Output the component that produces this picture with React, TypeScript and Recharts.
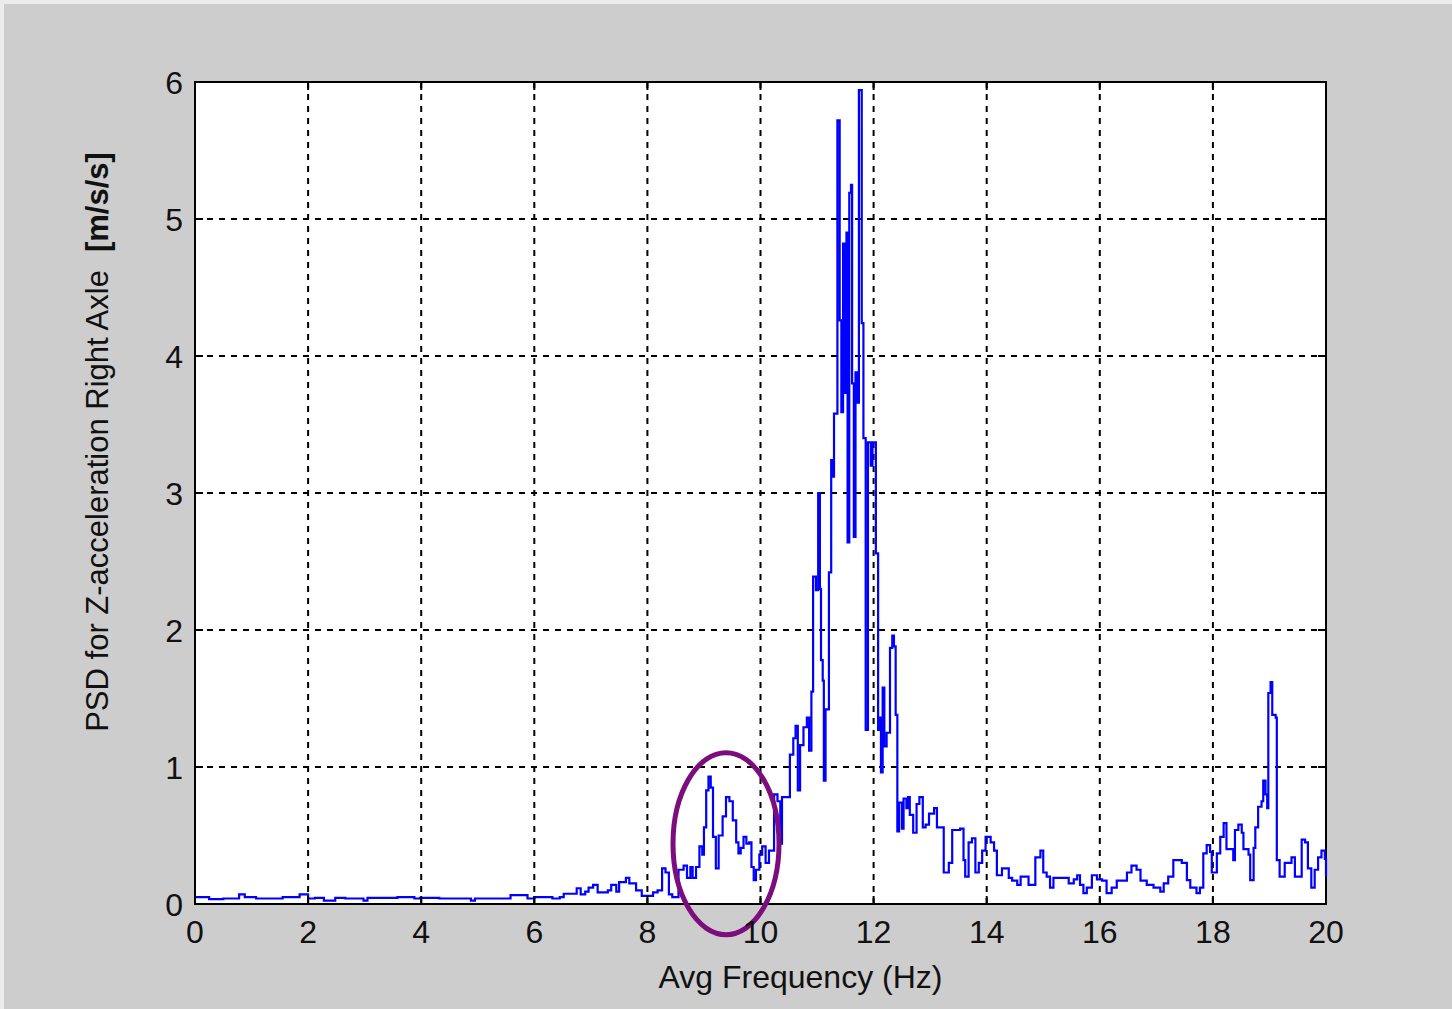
import { LineChart, Line, XAxis, YAxis, CartesianGrid, ReferenceArea, ReferenceDot } from 'recharts';

// PSD trace, frequency in Hz and amplitude in m/s/s
const freqHz = [
  0.0, 0.25, 0.5, 0.78, 0.88, 1.08, 1.55, 1.85, 2.0, 2.12, 2.28, 2.48, 2.66, 2.98, 3.05, 3.58, 3.88, 3.98,
  4.32, 4.88, 4.95, 5.58, 5.88, 6.0, 6.32, 6.45, 6.52, 6.75, 6.82, 6.9, 6.96, 7.04, 7.12, 7.3, 7.36, 7.45,
  7.5, 7.62, 7.68, 7.8, 7.9, 8.1, 8.18, 8.26, 8.32, 8.38, 8.44, 8.55, 8.64, 8.7, 8.76, 8.8, 8.86, 8.92,
  8.97, 9.0, 9.04, 9.08, 9.12, 9.16, 9.21, 9.26, 9.33, 9.39, 9.45, 9.51, 9.57, 9.61, 9.65, 9.7, 9.75, 9.8,
  9.84, 9.88, 9.92, 9.98, 10.03, 10.09, 10.15, 10.24, 10.3, 10.35, 10.38, 10.52, 10.58, 10.62, 10.66, 10.7,
  10.76, 10.82, 10.86, 10.9, 10.93, 10.98, 11.02, 11.05, 11.07, 11.1, 11.12, 11.15, 11.21, 11.25, 11.28,
  11.3, 11.36, 11.4, 11.43, 11.46, 11.49, 11.52, 11.54, 11.57, 11.6, 11.62, 11.65, 11.68, 11.71, 11.74,
  11.79, 11.82, 11.86, 11.9, 11.95, 11.98, 12.04, 12.08, 12.1, 12.13, 12.16, 12.19, 12.23, 12.29, 12.33,
  12.36, 12.39, 12.42, 12.45, 12.5, 12.53, 12.58, 12.61, 12.64, 12.7, 12.76, 12.81, 12.87, 12.92, 12.98,
  13.07, 13.12, 13.24, 13.33, 13.39, 13.53, 13.59, 13.62, 13.68, 13.74, 13.8, 13.86, 13.92, 13.98, 14.07,
  14.13, 14.18, 14.27, 14.39, 14.45, 14.54, 14.6, 14.74, 14.86, 14.95, 15.0, 15.06, 15.12, 15.18, 15.45,
  15.54, 15.6, 15.65, 15.71, 15.77, 15.86, 15.95, 16.04, 16.12, 16.21, 16.3, 16.48, 16.56, 16.65, 16.72,
  16.83, 16.95, 17.07, 17.13, 17.21, 17.3, 17.45, 17.54, 17.6, 17.71, 17.77, 17.83, 17.89, 17.95, 17.98,
  18.07, 18.13, 18.19, 18.24, 18.36, 18.39, 18.45, 18.51, 18.54, 18.63, 18.66, 18.72, 18.75, 18.8, 18.86,
  18.89, 18.93, 18.96, 18.98, 19.02, 19.05, 19.11, 19.13, 19.18, 19.24, 19.27, 19.39, 19.45, 19.55, 19.57,
  19.63, 19.68, 19.74, 19.8, 19.86, 19.92, 19.98, 20.0,
];

const psd = [
  0.05, 0.035, 0.04, 0.07, 0.05, 0.04, 0.05, 0.07, 0.04, 0.045, 0.025, 0.045, 0.04, 0.025, 0.045, 0.05, 0.04, 0.045,
  0.04, 0.025, 0.04, 0.065, 0.04, 0.05, 0.04, 0.05, 0.075, 0.115, 0.07, 0.09, 0.12, 0.14, 0.085, 0.1, 0.14, 0.09,
  0.16, 0.19, 0.15, 0.1, 0.06, 0.085, 0.1, 0.26, 0.23, 0.07, 0.05, 0.25, 0.28, 0.19, 0.27, 0.19, 0.27, 0.42,
  0.36, 0.56, 0.83, 0.93, 0.85, 0.49, 0.26, 0.5, 0.64, 0.78, 0.75, 0.61, 0.45, 0.37, 0.41, 0.49, 0.44, 0.45,
  0.27, 0.175, 0.25, 0.36, 0.42, 0.3, 0.39, 0.8, 0.75, 0.44, 0.78, 1.09, 1.21, 1.3, 0.83, 1.16,
  1.29, 1.36, 1.12, 1.55, 2.39, 2.29, 3.0, 2.3, 1.78, 1.63, 0.9, 1.42, 2.42, 3.24, 3.12,
  3.58, 5.72, 4.26, 3.59, 4.82, 3.73, 4.9, 2.64, 5.19, 5.25, 3.8, 2.68, 3.88, 3.66, 5.94,
  4.24, 3.4, 1.27, 3.37, 3.2, 3.37, 2.56, 1.27, 1.36, 0.96, 1.58, 1.15, 1.25, 1.87, 1.96,
  1.88, 1.38, 0.53, 0.74, 0.55, 0.77, 0.7, 0.78, 0.65, 0.52, 0.73, 0.78, 0.56, 0.58, 0.66,
  0.7, 0.56, 0.23, 0.3, 0.54, 0.55, 0.32, 0.2, 0.45, 0.48, 0.23, 0.3, 0.39, 0.49, 0.45,
  0.39, 0.21, 0.26, 0.19, 0.17, 0.14, 0.2, 0.14, 0.34, 0.39, 0.23, 0.2, 0.12, 0.19, 0.15,
  0.18, 0.21, 0.14, 0.08, 0.12, 0.21, 0.18, 0.17, 0.08, 0.12, 0.17, 0.23, 0.28, 0.25, 0.17,
  0.14, 0.12, 0.09, 0.15, 0.2, 0.32, 0.3, 0.175, 0.12, 0.08, 0.12, 0.37, 0.43, 0.38, 0.23,
  0.37, 0.49, 0.59, 0.4, 0.32, 0.54, 0.58, 0.52, 0.4, 0.36, 0.175, 0.41, 0.56, 0.71, 0.75,
  0.9, 0.8, 0.7, 1.54, 1.62, 1.38, 1.36, 0.32, 0.2, 0.2, 0.3, 0.34, 0.2, 0.2, 0.47,
  0.45, 0.26, 0.12, 0.25, 0.34, 0.39, 0.33, 0.2,
];

const xTicks = [0, 2, 4, 6, 8, 10, 12, 14, 16, 18, 20];
const yTicks = [0, 1, 2, 3, 4, 5, 6];

// circled bump around 9.4 Hz
const markFreq = 9.39;
const markPsd = 0.44;

const data = freqHz.map((f, i) => ({ f, v: psd[i] }));

const W = 1452;
const H = 1009;
const PLOT_LEFT = 195;
const PLOT_TOP = 82;
const PLOT_RIGHT = 1326;
const PLOT_BOTTOM = 904;
const AXIS_W = 60;
const AXIS_H = 60;
const FONT = '"Liberation Sans", Arial, sans-serif';
const TICK_LEN = 8;

const XTick = ({ x, y, payload }: any) => (
  <g>
    <line x1={x} y1={PLOT_BOTTOM} x2={x} y2={PLOT_BOTTOM - TICK_LEN} stroke="#000" strokeWidth={2} />
    <line x1={x} y1={PLOT_TOP} x2={x} y2={PLOT_TOP + TICK_LEN} stroke="#000" strokeWidth={2} />
    <text x={x} y={y + 39} textAnchor="middle" fontSize={32} fontFamily={FONT} fill="#111">
      {payload.value}
    </text>
  </g>
);

const YTick = ({ x, y, payload }: any) => (
  <g>
    <line x1={PLOT_LEFT} y1={y} x2={PLOT_LEFT + TICK_LEN} y2={y} stroke="#000" strokeWidth={2} />
    <line x1={PLOT_RIGHT} y1={y} x2={PLOT_RIGHT - TICK_LEN} y2={y} stroke="#000" strokeWidth={2} />
    <text x={x - 12} y={y} dy="0.36em" textAnchor="end" fontSize={32} fontFamily={FONT} fill="#111">
      {payload.value}
    </text>
  </g>
);

const YTitle = ({ viewBox }: any) => {
  const cx = viewBox.x - 38;
  const cy = viewBox.y + viewBox.height / 2 - 51;
  return (
    <text
      x={cx}
      y={cy}
      transform={`rotate(-90, ${cx}, ${cy})`}
      textAnchor="middle"
      dominantBaseline="central"
      fontSize={31}
      fontFamily={FONT}
      fill="#111"
    >
      <tspan>PSD for Z-acceleration Right Axle</tspan>
      <tspan dx={18} fontWeight="bold">[m/s/s]</tspan>
    </text>
  );
};

const XTitle = ({ viewBox }: any) => (
  <text
    x={viewBox.x + viewBox.width / 2 + 40}
    y={988}
    textAnchor="middle"
    fontSize={32}
    fontFamily={FONT}
    fill="#111"
  >
    Avg Frequency (Hz)
  </text>
);

const Ellipse = ({ cx, cy }: any) => (
  <ellipse cx={cx} cy={cy} rx={53} ry={91} fill="none" stroke="#7d0c7d" strokeWidth={5} />
);

export default function App() {
  return (
    <div
      style={{
        position: 'fixed',
        left: 0,
        top: 0,
        width: W,
        height: H,
        background: '#cdcdcd',
        overflow: 'hidden',
      }}
    >
      <div style={{ position: 'absolute', left: 0, top: 0, width: W, height: 4, background: '#ececec' }} />
      <div style={{ position: 'absolute', left: 0, top: 0, width: 4, height: H, background: '#ececec' }} />
      <div style={{ position: 'absolute', left: 0, top: 0 }}>
        <LineChart
          width={W}
          height={H}
          data={data}
          margin={{
            top: PLOT_TOP,
            right: W - PLOT_RIGHT,
            left: PLOT_LEFT - AXIS_W,
            bottom: H - PLOT_BOTTOM - AXIS_H,
          }}
        >
          <CartesianGrid fill="#fff" stroke="#000" strokeWidth={2} strokeDasharray="6 6" />
          <XAxis
            dataKey="f"
            type="number"
            domain={[0, 20]}
            ticks={xTicks}
            height={AXIS_H}
            tickSize={0}
            tickMargin={0}
            tickLine={false}
            axisLine={false}
            tick={<XTick />}
            interval={0}
            label={{ content: XTitle }}
          />
          <YAxis
            type="number"
            domain={[0, 6]}
            ticks={yTicks}
            width={AXIS_W}
            tickSize={0}
            tickMargin={0}
            tickLine={false}
            axisLine={false}
            tick={<YTick />}
            interval={0}
            label={{ content: YTitle }}
          />
          <Line
            dataKey="v"
            type="stepAfter"
            stroke="#0000ff"
            strokeWidth={2.2}
            dot={false}
            isAnimationActive={false}
          />
          <ReferenceArea x1={0} x2={20} y1={0} y2={6} fill="none" stroke="#000" strokeWidth={2} />
          <ReferenceDot x={markFreq} y={markPsd} ifOverflow="visible" shape={<Ellipse />} />
        </LineChart>
      </div>
    </div>
  );
}
